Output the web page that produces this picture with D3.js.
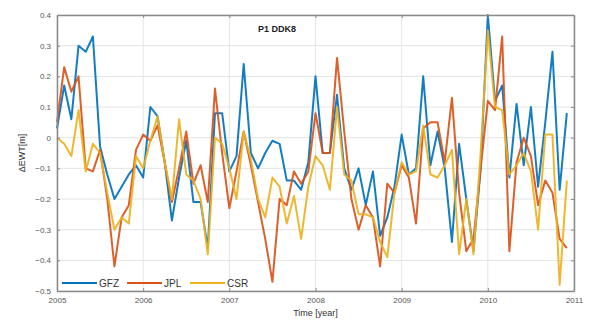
<!DOCTYPE html>
<html>
<head>
<meta charset="utf-8">
<script src="https://cdn.jsdelivr.net/npm/d3@7"></script>
<style>
  body { margin: 0; background: #fff; }
  text { font-family: "Liberation Sans", Arial, sans-serif; }
</style>
</head>
<body>
<div id="chart"></div>
<script>
const width = 589
const height = 322
const margin = { left: 57, right: 15, top: 15, bottom: 31 }

// monthly samples, Jan 2005 .. Dec 2010
const start_year = 2005
const gfz = [0.03, 0.17, 0.06, 0.30, 0.28, 0.33, -0.03, -0.12, -0.20, -0.16, -0.12, -0.09,
             -0.13, 0.10, 0.07, -0.08, -0.27, -0.13, -0.01, -0.21, -0.21, -0.36, 0.08, 0.08,
             -0.11, -0.06, 0.24, -0.05, -0.10, -0.05, -0.01, -0.02, -0.14, -0.14, -0.17, -0.08,
             0.20, -0.05, -0.05, 0.14, -0.10, -0.17, -0.10, -0.22, -0.11, -0.32, -0.26, -0.16,
             0.01, -0.12, -0.10, 0.20, -0.09, 0.02, -0.10, -0.34, -0.02, -0.20, -0.37, -0.10,
             0.40, 0.12, 0.17, -0.13, 0.11, -0.09, 0.10, -0.16, 0.05, 0.28, -0.17, 0.08]
const jpl = [0.05, 0.23, 0.15, 0.20, -0.10, -0.11, -0.04, -0.20, -0.42, -0.26, -0.22, -0.04,
             0.01, -0.01, 0.04, -0.08, -0.21, -0.10, 0.02, -0.15, -0.09, -0.21, 0.16, -0.05,
             -0.23, -0.11, 0.02, -0.09, -0.21, -0.33, -0.47, -0.20, -0.22, -0.11, -0.15, -0.11,
             0.08, -0.05, -0.05, 0.26, 0.02, -0.20, -0.30, -0.22, -0.26, -0.42, -0.15, -0.18,
             -0.09, -0.13, -0.28, 0.03, 0.05, 0.05, -0.08, 0.13, -0.18, -0.37, -0.33, -0.10,
             0.12, 0.09, 0.33, -0.37, -0.08, 0.00, -0.06, -0.22, -0.14, -0.18, -0.33, -0.36]
const csr = [0.00, -0.02, -0.06, 0.09, -0.11, -0.02, -0.05, -0.18, -0.30, -0.26, -0.28, -0.06,
             -0.10, -0.01, 0.07, -0.08, -0.20, 0.06, -0.12, -0.14, -0.20, -0.38, 0.00, -0.02,
             -0.10, -0.20, 0.02, -0.07, -0.20, -0.26, -0.13, -0.16, -0.28, -0.19, -0.33, -0.16,
             -0.06, -0.09, -0.17, 0.10, -0.12, -0.14, -0.25, -0.25, -0.26, -0.34, -0.39, -0.18,
             -0.08, -0.12, -0.11, 0.04, -0.12, -0.13, -0.09, -0.04, -0.38, -0.20, -0.38, -0.05,
             0.35, 0.10, 0.09, -0.12, -0.09, -0.05, -0.11, -0.30, 0.01, 0.01, -0.48, -0.14]

const series_names = ['GFZ', 'JPL', 'CSR']
const series_colors = ['#0072BD', '#D95319', '#EDB120']
const x_ticks = [2005, 2006, 2007, 2008, 2009, 2010, 2011]
const y_ticks = [-0.5, -0.4, -0.3, -0.2, -0.1, 0, 0.1, 0.2, 0.3, 0.4]

const svg = d3.select('#chart')
    .append('svg')
    .attr('width', width)
    .attr('height', height)

const x = d3.scaleLinear().domain([2005, 2011]).range([margin.left, width - margin.right])
const y = d3.scaleLinear().domain([-0.5, 0.4]).range([height - margin.bottom, margin.top])

// grid
svg.append('g')
    .selectAll('line')
    .data(x_ticks)
    .enter()
    .append('line')
    .attr('x1', d => x(d)).attr('x2', d => x(d))
    .attr('y1', y(0.4)).attr('y2', y(-0.5))
    .attr('stroke', '#e4e4e4')
    .attr('stroke-width', 1)
svg.append('g')
    .selectAll('line')
    .data(y_ticks)
    .enter()
    .append('line')
    .attr('x1', x(2005)).attr('x2', x(2011))
    .attr('y1', d => y(d)).attr('y2', d => y(d))
    .attr('stroke', '#e4e4e4')
    .attr('stroke-width', 1)

// series
const line_generator = d3.line()
    .x((d, i) => x(start_year + i / 12))
    .y(d => y(d))

const all_series = [gfz, jpl, csr]
all_series.forEach(function(values, k) {
    svg.append('path')
        .attr('d', line_generator(values))
        .attr('fill', 'none')
        .attr('stroke', series_colors[k])
        .attr('stroke-width', 2)
        .attr('stroke-linejoin', 'round')
        .attr('opacity', 0.92)
})

// axes
const fmt = d => (d === 0 ? '0' : d3.format('.1f')(d))
const axis_bottom = d3.axisBottom(x).tickValues(x_ticks).tickFormat(d3.format('d')).tickSizeInner(-3).tickSizeOuter(0).tickPadding(6)
const axis_left = d3.axisLeft(y).tickValues(y_ticks).tickFormat(fmt).tickSizeInner(-3).tickSizeOuter(0).tickPadding(6)
const axis_top = d3.axisTop(x).tickValues(x_ticks).tickFormat('').tickSizeInner(-3).tickSizeOuter(0)
const axis_right = d3.axisRight(y).tickValues(y_ticks).tickFormat('').tickSizeInner(-3).tickSizeOuter(0)

const ax_color = '#8a8a8a'
const g_bottom = svg.append('g').attr('transform', `translate(0,${y(-0.5)})`).call(axis_bottom)
const g_left = svg.append('g').attr('transform', `translate(${x(2005)},0)`).call(axis_left)
const g_top = svg.append('g').attr('transform', `translate(0,${y(0.4)})`).call(axis_top)
const g_right = svg.append('g').attr('transform', `translate(${x(2011)},0)`).call(axis_right)
;[g_bottom, g_left, g_top, g_right].forEach(function(g) {
    g.select('.domain').attr('stroke', ax_color).attr('stroke-width', 1.5)
    g.selectAll('.tick line').attr('stroke', ax_color)
    g.selectAll('.tick text').attr('fill', '#555').style('font-size', '8px')
})

// title
svg.append('text')
    .attr('x', 277)
    .attr('y', 32)
    .attr('text-anchor', 'middle')
    .style('font-size', '9px')
    .style('font-weight', 'bold')
    .attr('fill', '#222')
    .text('P1 DDK8')

// axis labels
svg.append('text')
    .attr('x', (x(2005) + x(2011)) / 2)
    .attr('y', 316)
    .attr('text-anchor', 'middle')
    .style('font-size', '9px')
    .attr('fill', '#333')
    .text('Time [year]')
svg.append('text')
    .attr('transform', `translate(25,${(y(0.4) + y(-0.5)) / 2}) rotate(-90)`)
    .attr('text-anchor', 'middle')
    .style('font-size', '9px')
    .attr('fill', '#333')
    .text('\u0394EWT[m]')

// legend
const legend_x = [62, 127, 190]
const legend_y = 283
series_names.forEach(function(name, k) {
    svg.append('line')
        .attr('x1', legend_x[k]).attr('x2', legend_x[k] + 35)
        .attr('y1', legend_y).attr('y2', legend_y)
        .attr('stroke', series_colors[k])
        .attr('stroke-width', 2)
    svg.append('text')
        .attr('x', legend_x[k] + 37)
        .attr('y', legend_y + 3.5)
        .style('font-size', '10px')
        .attr('fill', '#333')
        .text(name)
})
</script>
</body>
</html>
